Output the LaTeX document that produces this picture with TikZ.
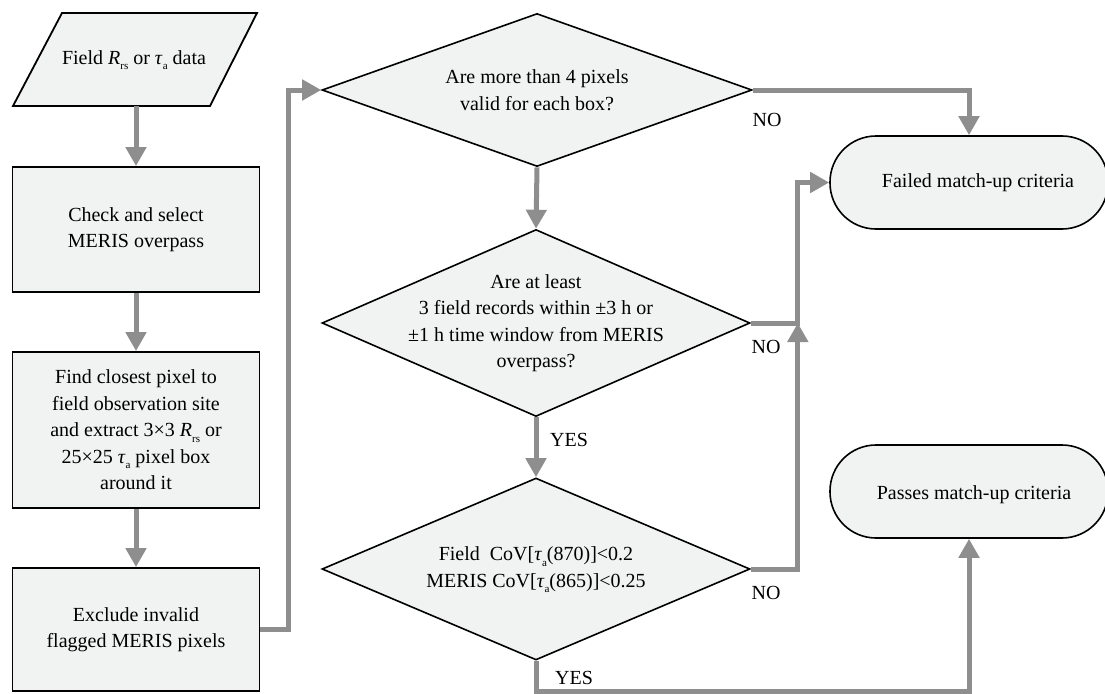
\documentclass[tikz,border=0pt]{standalone}
\usepackage{fontspec}
\setmainfont{Liberation Serif}
\usetikzlibrary{arrows.meta,shapes.geometric}
\definecolor{boxfill}{HTML}{F1F2F2}
\definecolor{linegray}{HTML}{8E8E8E}
\newcommand\lowsub[1]{\raisebox{-0.6ex}{\fontsize{11}{11}\selectfont #1}}
\begin{document}
\begin{tikzpicture}[x=1pt,y=-1pt,
  every node/.style={font=\fontsize{20}{26.5}\selectfont},
  procbox/.style={draw=black, line width=1.8pt, fill=boxfill, minimum width=247pt, inner sep=0pt, align=center},
  decision/.style={diamond, draw=black, line width=1.6pt, fill=boxfill, inner sep=0pt},
  term/.style={draw=black, line width=1.6pt, fill=boxfill, rounded corners=46pt, minimum width=278pt, minimum height=93pt, inner sep=0pt},
  txt/.style={align=center, inner sep=0pt},
  conn/.style={draw=linegray, line width=5pt},
  arr/.style={conn, -{Triangle[length=19pt,width=20pt]}},
  lbl/.style={inner sep=0pt}
]
\useasboundingbox (0,0) rectangle (1105,693);

% input parallelogram
\draw[line width=1.8pt, fill=boxfill] (62,13) -- (257,13) -- (210,106) -- (13,106) -- cycle;
\node[txt] (src) at (134,60) {Field \textit{R}\lowsub{rs} or \textit{τ}\lowsub{a} data};
\coordinate (srcb) at (136,106);

% process boxes
\node[procbox, minimum height=125pt] (b1) at (136,229.5) {Check and select\\MERIS overpass};
\node[procbox, minimum height=156pt] (b3) at (136,430) {Find closest pixel to\\field observation site\\and extract 3×3 \textit{R}\lowsub{rs} or\\25×25 \textit{τ}\lowsub{a} pixel box\\around it};
\node[procbox, minimum height=123pt] (b4) at (136,629.5) {Exclude invalid\\flagged MERIS pixels};

% decisions
\node[decision, minimum width=430pt, minimum height=153pt] (d1) at (537,90) {};
\node[txt] at (d1.center) {Are more than 4 pixels\\valid for each box?};
\node[decision, minimum width=428pt, minimum height=187pt] (d2) at (536,323) {};
\node[txt] at (d2.center) {Are at least\\3 field records within ±3 h or\\±1 h time window from MERIS\\overpass?};
\node[decision, minimum width=428pt, minimum height=182pt] (d3) at (536,569) {};
\node[txt] at ([yshift=-1pt]d3.center) {Field\ \ CoV[\textit{τ}\lowsub{a}(870)]<0.2\\MERIS CoV[\textit{τ}\lowsub{a}(865)]<0.25};

% terminals
\node[term] (fail) at (969,182.5) {};
\node[txt] at ([xshift=9pt]fail.center) {Failed match-up criteria};
\node[term] (pass) at (969,491.5) {};
\node[txt] at ([xshift=5pt,yshift=-3pt]pass.center) {Passes match-up criteria};

% connectors
\draw[arr] (srcb) -- (b1.north);
\draw[arr] (b1.south) -- (b3.north);
\draw[arr] (b3.south) -- (b4.north);
\draw[arr] (b4.east) -- ++(28,0) |- (d1.west);
\draw[arr] (d1.south) -- (d2.north);
\draw[arr] (d2.south) -- (d3.north);
\draw[arr] (d1.east) -| (fail.north);
\draw[arr] (d2.east) -- ++(47,0) |- (fail.west);
\draw[arr] (d3.east) -- ++(47,0) coordinate (c3) -- (c3 |- d2.east);
\draw[arr] (d3.south) -- ++(0,31) -| (pass.south);

% labels
\node[lbl] (no1) at (767,120) {NO};
\node[lbl] (no2) at (766,347) {NO};
\node[lbl] (no3) at (766,593) {NO};
\node[lbl] (yes1) at (569,440) {YES};
\node[lbl] (yes2) at (574,678) {YES};
\end{tikzpicture}
\end{document}
